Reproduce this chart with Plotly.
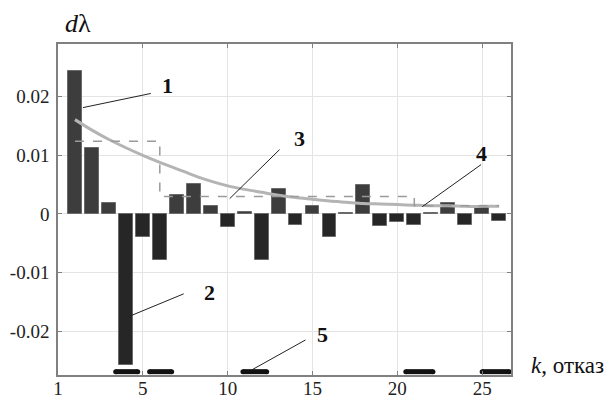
import plotly.graph_objects as go

# failure index k and increment of failure rate dλ for each failure
k = list(range(1, 27))
d_lambda = [0.0244, 0.0113, 0.0018, -0.0258, -0.0040, -0.0078, 0.0032, 0.0052,
            0.0014, -0.0022, 0.0003, -0.0078, 0.0043, -0.0018, 0.0013, -0.0039,
            0.0001, 0.0050, -0.0020, -0.0013, -0.0018, 0.0001, 0.0018, -0.0018,
            0.0012, -0.0012]

# smoothed trend of dλ
trend = [0.0161, 0.0143, 0.0127, 0.0113, 0.0100, 0.0088, 0.0077, 0.0066,
         0.0056, 0.0048, 0.0042, 0.0037, 0.0032, 0.0028, 0.0025, 0.0022,
         0.0020, 0.0018, 0.0017, 0.0016, 0.0015, 0.0014, 0.0014, 0.0013,
         0.0013, 0.0013]

# piecewise-constant level: segment boundaries and levels
step_k = [1, 6, 21, 26]
step_level = [0.0124, 0.0030, 0.0014]

# highlighted intervals on the k axis
mark_start = [3.4, 5.4, 10.9, 20.5, 25.0]
mark_end = [4.7, 6.7, 12.3, 22.1, 26.6]
mark_level = -0.0269

x_ticks = [0, 5, 10, 15, 20, 25]
x_tick_text = ["1", "5", "10", "15", "20", "25"]
y_ticks = [-0.02, -0.01, 0, 0.01, 0.02]
y_tick_text = ["-0.02", "-0.01", "0", "0.01", "0.02"]

SERIF = "Liberation Serif"

fig = go.Figure()

bar_colors = ["#3d3d3d" if v >= 0 else "#262626" for v in d_lambda]
fig.add_trace(go.Bar(
    x=k, y=d_lambda, width=0.82,
    marker=dict(color=bar_colors, line=dict(color="#6a6a6a", width=1)),
    showlegend=False, hoverinfo="x+y",
))

fig.add_trace(go.Scatter(
    x=k, y=trend, mode="lines",
    line=dict(color="#b4b4b4", width=3, shape="spline", smoothing=0.8),
    showlegend=False,
))

# step line built from segment boundaries
sx, sy = [], []
for i, lvl in enumerate(step_level):
    sx += [step_k[i], step_k[i + 1]]
    sy += [lvl, lvl]
fig.add_trace(go.Scatter(
    x=sx, y=sy, mode="lines", line=dict(color="#9a9a9a", width=1.5, dash="dash"),
    showlegend=False,
))

for a, b in zip(mark_start, mark_end):
    fig.add_trace(go.Scatter(
        x=[a, b], y=[mark_level, mark_level], mode="lines+markers",
        line=dict(color="#111111", width=5),
        marker=dict(color="#111111", size=5),
        showlegend=False,
    ))

# numbered callouts: (text position, leader line start, leader line end)
callouts = [
    ("1", (6.47, 0.02193), (1.47, 0.01815), (5.47, 0.02056)),
    ("2", (8.94, -0.01345), (4.12, -0.01756), (7.41, -0.01362)),
    ("3", (14.24, 0.01287), (10.12, 0.00262), (13.06, 0.01099)),
    ("4", (24.94, 0.01031), (21.47, 0.00125), (24.94, 0.00843)),
    ("5", (15.59, -0.02063), (11.41, -0.02662), (14.59, -0.02149)),
]
for txt, (tx, ty), (x0, y0), (x1, y1) in callouts:
    fig.add_shape(type="line", x0=x0, y0=y0, x1=x1, y1=y1,
                  line=dict(color="#222222", width=1))
    fig.add_annotation(x=tx, y=ty, text=f"<b>{txt}</b>", showarrow=False,
                       font=dict(family=SERIF, size=22, color="#111111"))

fig.add_annotation(xref="paper", yref="paper", x=0.011, y=1.062, xanchor="left",
                   yanchor="middle", text="<i>d</i>λ", showarrow=False,
                   font=dict(family=SERIF, size=26, color="#111111"))
fig.add_annotation(xref="paper", yref="paper", x=1.040, y=0.03, xanchor="left",
                   yanchor="middle", text="<i>k</i>, отказ", showarrow=False,
                   font=dict(family=SERIF, size=23, color="#111111"))

axis_common = dict(
    showline=True, linecolor="#808080", linewidth=1.5, mirror="ticks",
    ticks="inside", ticklen=4, tickcolor="#808080", tickwidth=1,
    showgrid=True, gridcolor="#e4e4e4", gridwidth=1, zeroline=False,
    tickfont=dict(family=SERIF, size=19, color="#222222"),
    automargin=False,
)

fig.update_xaxes(range=[0, 26.7], tickvals=x_ticks, ticktext=x_tick_text,
                 ticklabelstandoff=-5, **axis_common)
fig.update_yaxes(range=[-0.02747, 0.0290], tickvals=y_ticks, ticktext=y_tick_text,
                 ticklabelstandoff=3, **axis_common)

fig.update_layout(
    width=609, height=401,
    margin=dict(l=58, r=98, t=44, b=26),
    paper_bgcolor="white", plot_bgcolor="white",
    bargap=0, showlegend=False,
)

fig.write_html("out.html")
